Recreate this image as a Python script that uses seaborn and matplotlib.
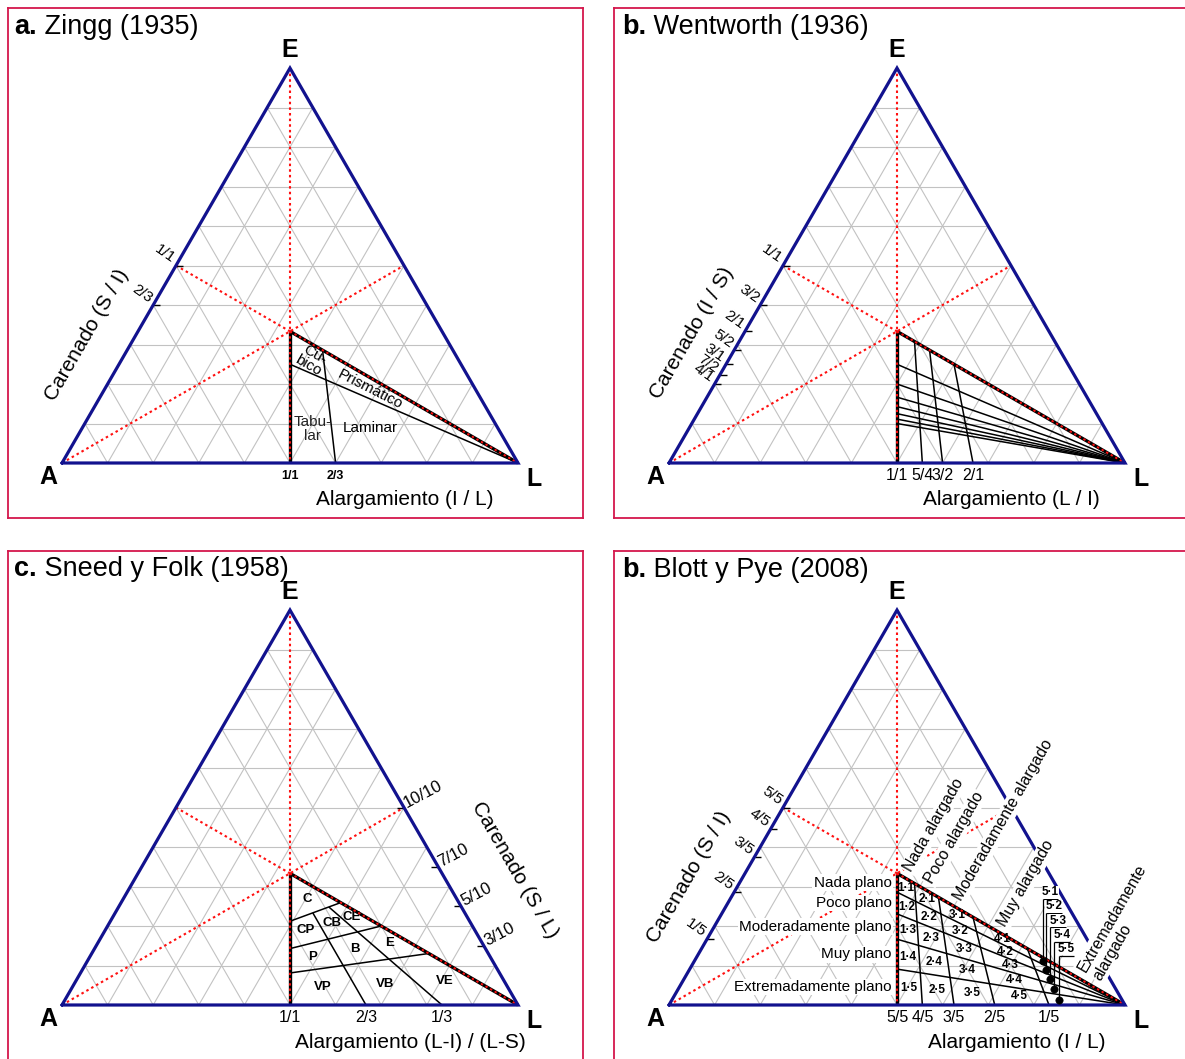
import numpy as np
import matplotlib
matplotlib.use("Agg")
import matplotlib.pyplot as plt
import seaborn as sns

sns.set_theme(style="white")
plt.rcParams["font.family"] = ["Liberation Sans", "DejaVu Sans"]
plt.rcParams["text.color"] = "black"
NARROW = ["Liberation Sans Narrow", "Liberation Sans", "DejaVu Sans"]

# ---------------------------------------------------------------------
#  Data
# ---------------------------------------------------------------------
zingg_side_ratios = [1.0, 2 / 3]                      # S/I
zingg_side_labels = ["1/1", "2/3"]
zingg_base_ratios = [1.0, 2 / 3]                      # I/L
zingg_base_labels = ["1/1", "2/3"]

went_side_ratios = [1.0, 1.5, 2.0, 2.5, 3.0, 3.5, 4.0]   # I/S
went_side_labels = ["1/1", "3/2", "2/1", "5/2", "3/1", "7/2", "4/1"]
went_extra_ratios = [4.5]                             # unlabelled last line
went_base_ratios = [1.0, 1.25, 1.5, 2.0]              # L/I
went_base_labels = ["1/1", "5/4", "3/2", "2/1"]

sf_side_ratios = [1.0, 0.7, 0.5, 0.3]                 # S/L
sf_side_labels = ["10/10", "7/10", "5/10", "3/10"]
sf_base_ratios = [1.0, 2 / 3, 1 / 3]                  # (L-I)/(L-S)
sf_base_labels = ["1/1", "2/3", "1/3"]
sf_classes = [["CP", "CB", "CE"], ["P", "B", "E"], ["VP", "VB", "VE"]]

bp_side_ratios = [1.0, 0.8, 0.6, 0.4, 0.2]            # S/I
bp_side_labels = ["5/5", "4/5", "3/5", "2/5", "1/5"]
bp_base_ratios = [1.0, 0.8, 0.6, 0.4, 0.2]            # I/L
bp_base_labels = ["5/5", "4/5", "3/5", "2/5", "1/5"]
bp_flat_names = ["Nada plano", "Poco plano", "Moderadamente plano",
                 "Muy plano", "Extremadamente plano"]
bp_elong_names = ["Nada alargado", "Poco alargado", "Moderadamente alargado",
                  "Muy alargado", "Extremadamente\nalargado"]
bp_dot_ratio = 0.163                                  # I/L of the marked 5·x cells

# ---------------------------------------------------------------------
#  Geometry helpers (A bottom-left, L bottom-right, E top)
# ---------------------------------------------------------------------
H = np.sqrt(3) / 2
A = np.array([0.0, 0.0])
L = np.array([1.0, 0.0])
E = np.array([0.5, H])
C = np.array([0.5, H / 3])
MB = np.array([0.5, 0.0])
VERT = (E, MB)
TOP = (C, L)
BASE = (A, L)


def on_ae(t):
    return np.array([0.5 * t, H * t])


def on_el(t):
    return np.array([1 - 0.5 * t, H * t])


def on_al(s):
    return np.array([s, 0.0])


def cross(l1, l2):
    (x1, y1), (x2, y2) = l1
    (x3, y3), (x4, y4) = l2
    d = (x1 - x2) * (y3 - y4) - (y1 - y2) * (x3 - x4)
    a = x1 * y2 - y1 * x2
    b = x3 * y4 - y3 * x4
    return np.array([(a * (x3 - x4) - (x1 - x2) * b) / d,
                     (a * (y3 - y4) - (y1 - y2) * b) / d])


W, HPX, S = 1185, 1059, 456.0
BOX = "#d4174c"
BLUE = "#12128e"
GREY = "#c2c2c2"
RED = "#ff1010"
DOT = (0, (1.2, 1.5))

fig = plt.figure(figsize=(W / 100, HPX / 100), dpi=100)


def make_axes(box, apex):
    bx0, by0, bx1, by1 = box
    x0, y0 = apex
    ax = fig.add_axes([bx0 / W, 1 - by1 / HPX, (bx1 - bx0) / W, (by1 - by0) / HPX])
    ax.set_xlim((bx0 - x0) / S, (bx1 - x0) / S)
    ax.set_ylim((y0 - by1) / S, (y0 - by0) / S)
    ax.set_xticks([])
    ax.set_yticks([])
    for sp in ax.spines.values():
        sp.set_visible(True)
        sp.set_color(BOX)
        sp.set_linewidth(1.3)
    return ax


def seg(ax, p, q, color="black", lw=1.1, z=2, ls="-"):
    ax.plot([p[0], q[0]], [p[1], q[1]], color=color, lw=lw, ls=ls, zorder=z,
            solid_capstyle="butt", dash_capstyle="butt")


def draw_frame(ax):
    for k in range(1, 10):
        f = k / 10
        seg(ax, on_ae(f), on_el(f), GREY, 0.8, 1)
        seg(ax, on_al(f), on_el(1 - f), GREY, 0.8, 1)
        seg(ax, on_al(f), on_ae(f), GREY, 0.8, 1)
    for p, q in [(E, C), (on_ae(0.5), C), (A, on_el(0.5))]:
        seg(ax, p, q, RED, 1.5, 4, DOT)
    for p, q in [(C, MB), (C, L)]:
        seg(ax, p, q, "black", 2.4, 3)
        seg(ax, p, q, RED, 1.4, 4, DOT)
    tri = np.array([A, L, E, A])
    ax.plot(tri[:, 0], tri[:, 1], color=BLUE, lw=2.3, zorder=5,
            solid_joinstyle="miter")
    kw = dict(fontsize=18, weight="bold", family=NARROW, ha="center", va="center")
    ax.text(0.5, 0.906, "E", **kw)
    ax.text(-0.030, -0.031, "A", **kw)
    ax.text(1.036, -0.036, "L", **kw)


def left_ticks(ax, pts, labels, fs=11):
    for p, lab in zip(pts, labels):
        seg(ax, p, p + [0.015, 0], "black", 1.0, 4)
        ax.text(p[0] - 0.014, p[1] - 0.001, lab, rotation=-35, ha="right", va="bottom",
                rotation_mode="anchor", fontsize=fs, family=NARROW)


def right_ticks(ax, pts, labels, fs=12):
    for p, lab in zip(pts, labels):
        seg(ax, p, p - [0.015, 0], "black", 1.0, 4)
        ax.text(p[0] + 0.010, p[1] - 0.006, lab, rotation=28, ha="left", va="bottom",
                rotation_mode="anchor", fontsize=fs, family=NARROW)


def base_labels(ax, xs, labels, fs=11, weight="normal"):
    for x, lab in zip(xs, labels):
        ax.text(x, -0.028, lab, ha="center", va="center", fontsize=fs,
                weight=weight, family=NARROW)


def title(ax, x, y, letter, rest):
    t1 = fig.text(x / W, 1 - y / HPX, letter, fontsize=19.5, weight="bold",
                  ha="left", va="baseline")
    ax.annotate(rest, xy=(1, 0), xycoords=t1, fontsize=19.5, ha="left",
                va="bottom", annotation_clip=False)


def cell_center(left, right, top, bottom):
    pts = [cross(left, top), cross(right, top), cross(right, bottom), cross(left, bottom)]
    return np.mean(pts, axis=0)


# ---------------------------------------------------------------------
#  a. Zingg (1935)
# ---------------------------------------------------------------------
ax = make_axes((8, 8, 582.5, 518), (62, 463))
draw_frame(ax)
side_pts = [on_ae(r / (1 + r)) for r in zingg_side_ratios]
base_xs = [1 / (1 + r) for r in zingg_base_ratios]
for p in side_pts[1:]:
    seg(ax, cross((L, p), VERT), L)
for s in base_xs[1:]:
    seg(ax, on_al(s), cross((E, on_al(s)), TOP))
left_ticks(ax, side_pts, zingg_side_labels)
base_labels(ax, base_xs, zingg_base_labels, fs=9, weight="bold")
ax.text(0.547, 0.226, "Cú-\nbico", rotation=-30, ha="center", va="center",
        fontsize=11, linespacing=0.85)
ax.text(0.676, 0.161, "Prismático", rotation=-27, ha="center", va="center", fontsize=11)
ax.text(0.549, 0.075, "Tabu-\nlar", ha="center", va="center", fontsize=11,
        linespacing=1.0, color="#222222")
ax.text(0.676, 0.077, "Laminar", ha="center", va="center", fontsize=11)
ax.text(0.752, -0.081, "Alargamiento (I / L)", ha="center", va="center", fontsize=15)
ax.text(0.055, 0.280, "Carenado (S / I)", rotation=60, ha="center", va="center", fontsize=15)
title(ax, 14, 34, "a.", " Zingg (1935)")

# ---------------------------------------------------------------------
#  b. Wentworth (1936)
# ---------------------------------------------------------------------
ax = make_axes((614, 8, 1192, 518), (669, 463))
draw_frame(ax)
side_pts = [on_ae(1 / (1 + r)) for r in went_side_ratios]
base_xs = [r / (1 + r) for r in went_base_ratios]
for r in went_side_ratios[1:] + went_extra_ratios:
    p = on_ae(1 / (1 + r))
    seg(ax, cross((L, p), VERT), L)
for s in base_xs[1:]:
    seg(ax, on_al(s), cross((E, on_al(s)), TOP))
left_ticks(ax, side_pts, went_side_labels, fs=11)
base_labels(ax, base_xs, went_base_labels, fs=11.5)
ax.text(0.751, -0.081, "Alargamiento (L / I)", ha="center", va="center", fontsize=15)
ax.text(0.050, 0.285, "Carenado (I / S)", rotation=60, ha="center", va="center", fontsize=15)
title(ax, 622, 34, "b.", " Wentworth (1936)")

# ---------------------------------------------------------------------
#  c. Sneed y Folk (1958)
# ---------------------------------------------------------------------
ax = make_axes((8, 551, 582.5, 1064), (62, 1005))
draw_frame(ax)
side_pts = [on_el(r / 2) for r in sf_side_ratios]
base_xs = [0.5 + (1 - r) / 2 for r in sf_base_ratios]
flat_lines = [(A, p) for p in side_pts[1:]]
elong_lines = [(C, on_al(s)) for s in base_xs[1:]]
for ln in flat_lines:
    seg(ax, cross(ln, VERT), cross(ln, TOP))
for ln in elong_lines:
    seg(ax, cross(ln, flat_lines[0]), ln[1])
right_ticks(ax, side_pts, sf_side_labels)
base_labels(ax, base_xs, sf_base_labels, fs=11.5)
c_center = np.mean([C, cross(VERT, flat_lines[0]), cross(TOP, flat_lines[0])], axis=0)
ckw = dict(ha="center", va="center", fontsize=9.5, weight="bold")
ax.text(c_center[0], c_center[1], "C", **ckw)
cols = [VERT] + elong_lines + [TOP]
bands = flat_lines + [BASE]
for j, row in enumerate(sf_classes):
    for i, name in enumerate(row):
        cx, cy = cell_center(cols[i], cols[i + 1], bands[j], bands[j + 1])
        ax.text(cx, cy, name, **ckw)
ax.text(0.763, -0.083, "Alargamiento (L-I) / (L-S)", ha="center", va="center", fontsize=15)
ax.text(0.993, 0.296, "Carenado (S / L)", rotation=-60, ha="center", va="center", fontsize=15)
title(ax, 14, 576, "c.", " Sneed y Folk (1958)")

# ---------------------------------------------------------------------
#  b. Blott y Pye (2008)
# ---------------------------------------------------------------------
ax = make_axes((614, 551, 1192, 1064), (669, 1005))
draw_frame(ax)
side_pts = [on_ae(r / (1 + r)) for r in bp_side_ratios]
base_xs = [1 / (1 + r) for r in bp_base_ratios]
flat_lines = [(L, p) for p in side_pts[1:]]
elong_lines = [(E, on_al(s)) for s in base_xs[1:]]
for ln in flat_lines:
    seg(ax, cross(ln, VERT), L)
for ln in elong_lines:
    seg(ax, ln[1], cross(ln, TOP))
left_ticks(ax, side_pts, bp_side_labels, fs=11)
base_labels(ax, base_xs, bp_base_labels, fs=11.5)

cols = [VERT] + elong_lines
bands = [TOP] + flat_lines + [BASE]
wbox = dict(facecolor="white", edgecolor="none", pad=1.0)
for i in range(4):
    for j in range(5):
        cx, cy = cell_center(cols[i], cols[i + 1], bands[j], bands[j + 1])
        ax.text(cx, cy, f"{i + 1}·{j + 1}", ha="center", va="center", fontsize=8.5,
                weight="bold")

# flatness class names, left of the vertical
for j, name in enumerate(bp_flat_names):
    y = (cross(VERT, bands[j])[1] + cross(VERT, bands[j + 1])[1]) / 2
    ax.text(0.488, y, name, ha="right", va="center", fontsize=11, bbox=wbox, zorder=6)

# elongation class names, above the top line
col_tops = [C] + [cross(ln, TOP) for ln in elong_lines]
for i, name in enumerate(bp_elong_names[:4]):
    mid = (col_tops[i] + col_tops[i + 1]) / 2
    ax.text(mid[0] + 0.004, mid[1] + 0.017, name, rotation=60, ha="left", va="center",
            rotation_mode="anchor", fontsize=11.5, bbox=wbox, zorder=6)
ax.text(0.921, 0.066, bp_elong_names[4], rotation=60, ha="left", va="center",
        rotation_mode="anchor", fontsize=11.5, bbox=wbox, zorder=6, multialignment="left")

# marked 5·x cells with leader lines
dot_line = (E, on_al(1 / (1 + bp_dot_ratio)))
dots = np.array([(cross(dot_line, bands[j]) + cross(dot_line, bands[j + 1])) / 2
                 for j in range(5)])
sns.scatterplot(x=dots[:, 0], y=dots[:, 1], ax=ax, color="black", s=28,
                edgecolor="black", zorder=8, legend=False)
for j, (dx, dy) in enumerate(dots):
    yu = 0.232 - 0.031 * j
    seg(ax, (dx, dy), (dx, yu), "black", 0.9, 7)
    seg(ax, (dx, yu), (dx + 0.034, yu), "black", 0.9, 7)
    ax.text(dx + 0.017, yu + 0.002, f"5·{j + 1}", ha="center", va="bottom", fontsize=8.5,
            weight="bold", bbox=dict(facecolor="white", edgecolor="none", pad=0.2), zorder=7)

ax.text(0.763, -0.083, "Alargamiento (I / L)", ha="center", va="center", fontsize=15)
ax.text(0.044, 0.280, "Carenado (S / I)", rotation=60, ha="center", va="center", fontsize=15)
title(ax, 622, 577, "b.", " Blott y Pye (2008)")

fig.savefig("out.png", dpi=100, facecolor="white")
